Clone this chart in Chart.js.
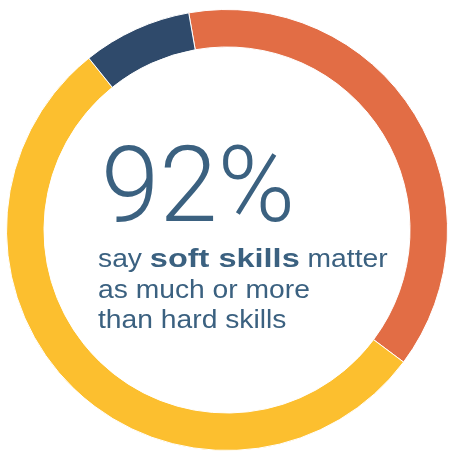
<!DOCTYPE html>
<html>
<head>
<meta charset="utf-8">
<script src="https://cdn.jsdelivr.net/npm/chart.js@4/dist/chart.umd.min.js"></script>
<style>
  html, body { margin: 0; padding: 0; background: #fff; }
  #wrap { width: 449px; height: 455px; }
</style>
</head>
<body>
<div id="wrap"><canvas id="grafico" width="449" height="455"></canvas></div>
<script>
// valores
const categorias = ['More than hard skills', 'As much as hard skills', 'Less than hard skills'];
const valores = [38, 54, 8];
const cores = ['#E26D45', '#FCBF2F', '#2F4A6B'];

const titulo = '92%';
const linhas = [
    [['say ', false], ['soft skills', true], [' matter', false]],
    [['as much or more', false]],
    [['than hard skills', false]]
];

const textoCentro = {
    id: 'textoCentro',
    afterDraw(chart) {
        const ctx = chart.ctx;
        ctx.save();
        ctx.fillStyle = '#3B6180';
        ctx.textBaseline = 'alphabetic';
        ctx.textAlign = 'left';
        ctx.font = '300 105px Roboto, "Liberation Sans", sans-serif';
        ctx.fillText(titulo, 101, 221);

        let y = 267;
        for (const linha of linhas) {
            let x = 98;
            for (const [txt, negrito] of linha) {
                // fonte da imagem e mais larga que Arial
                const esc = negrito ? 1.3 : 1.13;
                ctx.font = (negrito ? 'bold ' : '') + '25px "Liberation Sans", Arial, sans-serif';
                ctx.save();
                ctx.translate(x, y);
                ctx.scale(esc, 1);
                ctx.fillText(txt, 0, 0);
                ctx.restore();
                x += ctx.measureText(txt).width * esc;
            }
            y += 30.5;
        }
        ctx.restore();
    }
};

new Chart(document.getElementById('grafico').getContext('2d'), {
    type: 'doughnut',
    data: {
        labels: categorias,
        datasets: [{
            data: valores,
            backgroundColor: cores,
            borderColor: '#ffffff',
            borderWidth: 1
        }]
    },
    options: {
        responsive: false,
        animation: false,
        rotation: -10,
        cutout: '83%',
        layout: { padding: { left: 6, right: 1, top: 9, bottom: 4 } },
        plugins: {
            legend: { display: false },
            tooltip: { enabled: false }
        }
    },
    plugins: [textoCentro]
});
</script>
</body>
</html>
